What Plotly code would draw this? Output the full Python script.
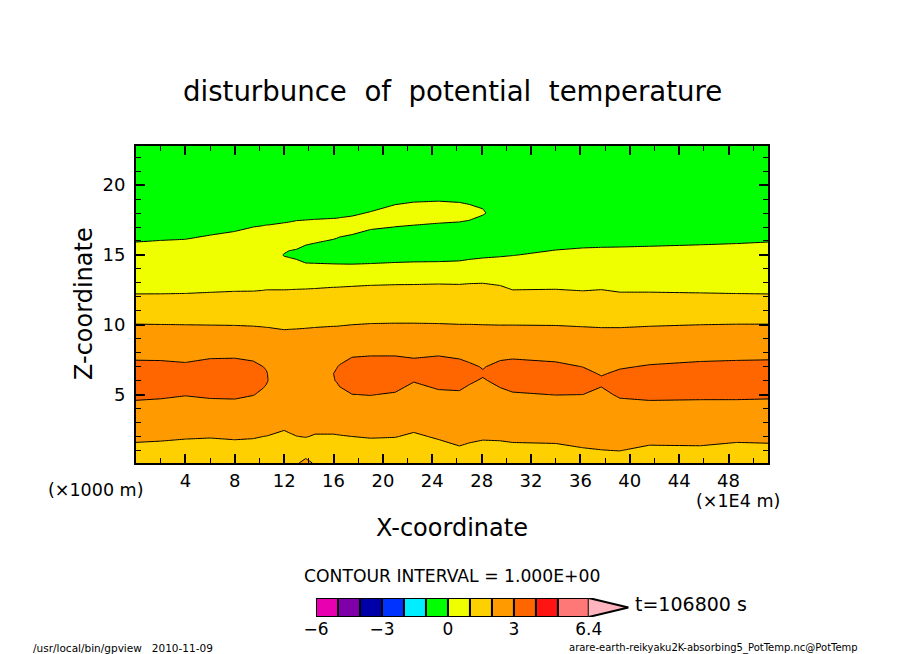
import plotly.graph_objects as go

# horizontal grid (x1E4 m) and height grid
x_coord = [0, 2, 4, 6, 8, 9.5, 10.3, 10.55, 10.7, 12, 12.4, 13, 13.75, 14.5, 16, 16.25, 16.5, 17.5, 19, 21, 22.5, 24.5, 26.2, 27, 28.1,
           29.5, 30.5, 34, 36.2, 37.7, 39.2, 41.6, 45.7, 48.7, 51.2]
z_coord = [0.1, 1, 2, 4, 5, 6, 6.5, 7, 8, 10, 12, 13, 14, 15, 16, 17, 18, 19, 20, 22.8]

# one line per x position, bottom to top
theta_columns = [
    [1.51, 1.81, 2.14, 2.80, 3.14, 3.50, 3.37, 3.18, 2.79, 2.02, 1.06, .77, .51, .24, -.02, -.28, -.55, -.70, -.80, -.90],
    [1.49, 1.78, 2.11, 2.77, 3.10, 3.50, 3.36, 3.17, 2.78, 2.01, 1.06, .78, .52, .26, .01, -.25, -.50, -.70, -.80, -.90],
    [1.44, 1.74, 2.06, 2.70, 3.03, 3.45, 3.30, 3.11, 2.74, 2.00, 1.07, .78, .53, .28, .03, -.22, -.47, -.70, -.80, -.90],
    [1.36, 1.68, 2.04, 2.74, 3.10, 3.50, 3.45, 3.24, 2.82, 1.99, 1.09, .81, .57, .33, .10, -.14, -.38, -.62, -.80, -.90],
    [1.43, 1.74, 2.08, 2.77, 3.11, 3.50, 3.47, 3.26, 2.83, 1.98, 1.11, .83, .61, .38, .15, -.07, -.30, -.52, -.75, -.90],
    [1.44, 1.73, 2.05, 2.70, 3.02, 3.30, 3.37, 3.16, 2.76, 1.96, 1.11, .84, .63, .42, .21, .00, -.21, -.42, -.63, -.90],
    [1.40, 1.68, 2.00, 2.65, 2.90, 3.12, 3.12, 3.00, 2.70, 1.94, 1.13, .85, .65, .44, .23, .02, -.19, -.39, -.61, -.90],
    [1.39, 1.67, 1.99, 2.63, 2.90, 3.04, 3.04, 2.96, 2.68, 1.93, 1.14, .86, .66, .45, .24, .03, -.18, -.38, -.60, -.90],
    [1.38, 1.66, 1.98, 2.62, 2.88, 3.00, 2.98, 2.92, 2.66, 1.93, 1.14, .86, .66, .45, .24, .03, -.18, -.38, -.60, -.90],
    [1.30, 1.57, 1.87, 2.47, 2.72, 2.85, 2.85, 2.82, 2.60, 1.87, 1.19, .81, .39, -.04, .40, .12, -.28, -.45, -.60, -.90],
    [1.60, 1.62, 1.92, 2.52, 2.75, 2.85, 2.85, 2.82, 2.61, 1.88, 1.20, .81, .36, -.08, .187, .11, -.204, -.42, -.58, -.90],
    [1.90, 1.69, 1.99, 2.59, 2.80, 2.85, 2.85, 2.82, 2.62, 1.89, 1.21, .82, .33, -.155, .23, .10, -.12, -.35, -.55, -.90],
    [2.25, 1.55, 2.03, 2.57, 2.80, 2.88, 2.90, 2.85, 2.62, 1.91, 1.23, .82, .24, -.33, .14, .10, -.10, -.33, -.55, -.90],
    [1.90, 1.65, 1.95, 2.55, 2.82, 2.92, 2.93, 2.88, 2.65, 1.93, 1.25, .83, .24, -.36, .064, .12, -.098, -.33, -.55, -.90],
    [1.38, 1.65, 1.95, 2.55, 2.85, 2.98, 3.00, 2.95, 2.68, 1.96, 1.28, .87, .23, -.41, -.05, .37, -.23, -.40, -.55, -.90],
    [1.38, 1.65, 1.96, 2.56, 2.85, 3.02, 3.07, 2.97, 2.69, 1.96, 1.28, .87, .23, -.42, -.08, .34, -.20, -.38, -.54, -.90],
    [1.38, 1.66, 1.97, 2.58, 2.82, 3.14, 3.20, 3.05, 2.70, 1.97, 1.28, .88, .23, -.43, -.12, .30, -.15, -.35, -.52, -.90],
    [1.37, 1.67, 2.00, 2.66, 2.99, 3.40, 3.51, 3.29, 2.86, 2.00, 1.30, .90, .23, -.45, -.20, .24, -.068, -.30, -.50, -.90],
    [1.42, 1.72, 2.04, 2.70, 3.02, 3.40, 3.55, 3.33, 2.90, 2.03, 1.32, .93, .26, -.42, -.25, .055, .03, -.27, -.50, -.90],
    [1.43, 1.71, 2.02, 2.63, 2.94, 3.30, 3.54, 3.33, 2.90, 2.04, 1.33, .95, .30, -.35, -.20, -.004, .20, -.133, -.40, -.90],
    [1.39, 1.64, 1.92, 2.47, 2.75, 3.03, 3.44, 3.24, 2.84, 2.04, 1.33, .955, .32, -.32, -.20, -.03, .20, -.056, -.35, -.90],
    [1.52, 1.78, 2.06, 2.62, 2.90, 3.18, 3.55, 3.33, 2.90, 2.03, 1.33, .97, .33, -.305, -.20, -.05, .135, -.024, -.30, -.90],
    [1.69, 1.92, 2.17, 2.68, 2.93, 3.18, 3.43, 3.22, 2.82, 2.01, 1.32, .96, .35, -.26, -.18, -.07, .124, -.039, -.30, -.90],
    [1.65, 1.87, 2.11, 2.59, 2.83, 3.07, 3.29, 3.11, 2.74, 2.01, 1.33, .98, .40, -.19, -.15, -.07, .076, -.047, -.25, -.90],
    [1.63, 1.83, 2.06, 2.50, 2.72, 2.95, 3.06, 2.96, 2.64, 2.00, 1.33, .99, .43, -.12, -.13, -.10, .018, -.042, -.25, -.90],
    [1.58, 1.82, 2.08, 2.61, 2.87, 3.13, 3.36, 3.17, 2.78, 1.99, 1.30, .93, .44, -.066, -.10, -.10, -.08, -.15, -.30, -.90],
    [1.59, 1.84, 2.12, 2.67, 2.95, 3.23, 3.43, 3.23, 2.81, 1.99, 1.20, .80, .39, -.02, -.30, -.30, -.20, -.20, -.35, -.90],
    [1.60, 1.86, 2.14, 2.72, 3.01, 3.40, 3.33, 3.13, 2.75, 1.98, 1.20, .83, .48, .12, -.22, -.40, -.50, -.60, -.70, -.90],
    [1.72, 1.95, 2.21, 2.74, 3.00, 3.26, 3.16, 2.99, 2.64, 1.95, 1.15, .80, .48, .16, -.16, -.40, -.50, -.60, -.70, -.90],
    [1.79, 1.99, 2.21, 2.66, 2.88, 3.10, 2.95, 2.81, 2.52, 1.94, 1.18, .83, .50, .18, -.15, -.40, -.50, -.60, -.70, -.90],
    [1.76, 2.01, 2.27, 2.80, 3.07, 3.40, 3.11, 2.94, 2.60, 1.93, 1.11, .78, .48, .17, -.13, -.40, -.50, -.60, -.70, -.90],
    [1.61, 1.88, 2.20, 2.82, 3.13, 3.50, 3.23, 3.05, 2.69, 1.96, 1.11, .78, .48, .18, -.11, -.40, -.50, -.60, -.70, -.90],
    [1.63, 1.90, 2.20, 2.81, 3.11, 3.50, 3.33, 3.14, 2.76, 2.00, 1.09, .77, .49, .21, -.08, -.36, -.50, -.60, -.70, -.90],
    [1.52, 1.81, 2.14, 2.79, 3.12, 3.50, 3.36, 3.17, 2.79, 2.02, 1.07, .77, .49, .22, -.05, -.32, -.50, -.60, -.70, -.90],
    [1.55, 1.84, 2.15, 2.78, 3.10, 3.50, 3.38, 3.19, 2.80, 2.02, 1.06, .77, .51, .24, -.02, -.28, -.55, -.70, -.80, -.90],
]
theta = [list(row) for row in zip(*theta_columns)]

x_ticks = [4, 8, 12, 16, 20, 24, 28, 32, 36, 40, 44, 48]
z_ticks = [5, 10, 15, 20]

band_edges = [-6, -5, -4, -3, -2, -1, 0, 1, 2, 3, 4, 5, 6.4]
band_colors = ["#e800b0", "#7f00a8", "#0000a8", "#0033ff", "#00eeff", "#00ff00", "#f0ff00",
               "#ffd000", "#ff9b00", "#ff6600", "#ff1414", "#ff7878"]
over_color = "#ffb4be"
bar_ticks = [-6, -3, 0, 3, 6.4]
bar_labels = ["\u22126", "\u22123", "0", "3", "6.4"]
arrow_x = [6.4, 8.2, 6.4]
arrow_y = [-0.5, 0, 0.5]

FONT = "DejaVu Sans"
W, H = 904, 654

# step colorscale, one flat piece per contour band
all_colors = [band_colors[0]] + band_colors + [over_color]
n = len(all_colors)
scale = []
for i, c in enumerate(all_colors):
    scale.append([i / n, c])
    scale.append([(i + 1) / n, c])

fig = go.Figure()
fig.add_trace(go.Contour(
    x=x_coord, y=z_coord, z=theta,
    colorscale=scale, showscale=False,
    autocontour=False,
    contours=dict(start=-6, end=6, size=1, coloring="fill", showlines=True),
    line=dict(color="black", width=1, smoothing=0),
    hoverinfo="skip",
))

# colour bar drawn on its own small axes
for i, c in enumerate(band_colors):
    fig.add_trace(go.Bar(
        x=[band_edges[i + 1] - band_edges[i]], y=[0], base=[band_edges[i]], orientation="h", width=1,
        marker=dict(color=c, line=dict(color="black", width=2)),
        xaxis="x2", yaxis="y2", showlegend=False, hoverinfo="skip",
    ))
fig.add_trace(go.Scatter(
    x=arrow_x, y=arrow_y, mode="lines", fill="toself", fillcolor=over_color,
    line=dict(color="black", width=2), xaxis="x2", yaxis="y2", showlegend=False,
    cliponaxis=False, hoverinfo="skip",
))

axis_style = dict(
    showgrid=False, zeroline=False, showline=True, linecolor="black", linewidth=2, mirror="allticks",
    ticks="inside", ticklen=9, tickwidth=2, tickcolor="black", automargin=False,
    tickfont=dict(family=FONT, size=18, color="black"),
)
fig.update_layout(
    template="none",
    width=W, height=H, autosize=False,
    margin=dict(l=0, r=0, t=0, b=0, pad=0),
    paper_bgcolor="white", plot_bgcolor="white", showlegend=False, barmode="overlay",
    xaxis=dict(
        domain=[136 / W, 768 / W], range=[0, 51.2], tickvals=x_ticks,
        minor=dict(dtick=2, ticks="inside", ticklen=5, tickwidth=1, tickcolor="black"),
        **axis_style,
    ),
    yaxis=dict(
        domain=[1 - 463 / H, 1 - 146 / H], range=[0.1, 22.8], tickvals=z_ticks, ticklabelstandoff=5,
        minor=dict(dtick=1, ticks="inside", ticklen=5, tickwidth=1, tickcolor="black"),
        **axis_style,
    ),
    xaxis2=dict(
        domain=[316 / W, 629 / W], range=[-6, 8.23], anchor="y2", tickvals=bar_ticks, ticktext=bar_labels,
        showgrid=False, zeroline=False, showline=False, ticks="", 
        tickfont=dict(family=FONT, size=17, color="black"), automargin=False,
    ),
    yaxis2=dict(
        domain=[1 - 617 / H, 1 - 598 / H], range=[-0.5, 0.5], anchor="x2",
        showgrid=False, zeroline=False, showline=False, showticklabels=False, ticks="", automargin=False,
    ),
)


def label(text, px, py, size, **kw):
    fig.add_annotation(text=text, x=px / W, y=1 - py / H, xref="paper", yref="paper", showarrow=False,
                       xanchor="center", yanchor="middle",
                       font=dict(family=FONT, size=size, color="black"), **kw)


label("disturbunce\u00a0 of\u00a0 potential\u00a0 temperature", 452, 92, 27.6)
label("X-coordinate", 452, 528, 24)
label("Z-coordinate", 84, 304, 24, textangle=-90)
label("(\u00d71000 m)", 95, 490, 17.5)
label("(\u00d71E4 m)", 738, 501, 17.5)
label("CONTOUR INTERVAL = 1.000E+00", 452, 576, 17.2)
label("t=106800 s", 691, 604, 19)
label("/usr/local/bin/gpview\u00a0 \u00a02010-11-09", 123, 648, 10.5)
label("arare-earth-reikyaku2K-absorbing5_PotTemp.nc@PotTemp", 713, 648, 10)

fig.write_html("out.html", config={"displayModeBar": False}, post_script="document.body.style.margin='0';")
